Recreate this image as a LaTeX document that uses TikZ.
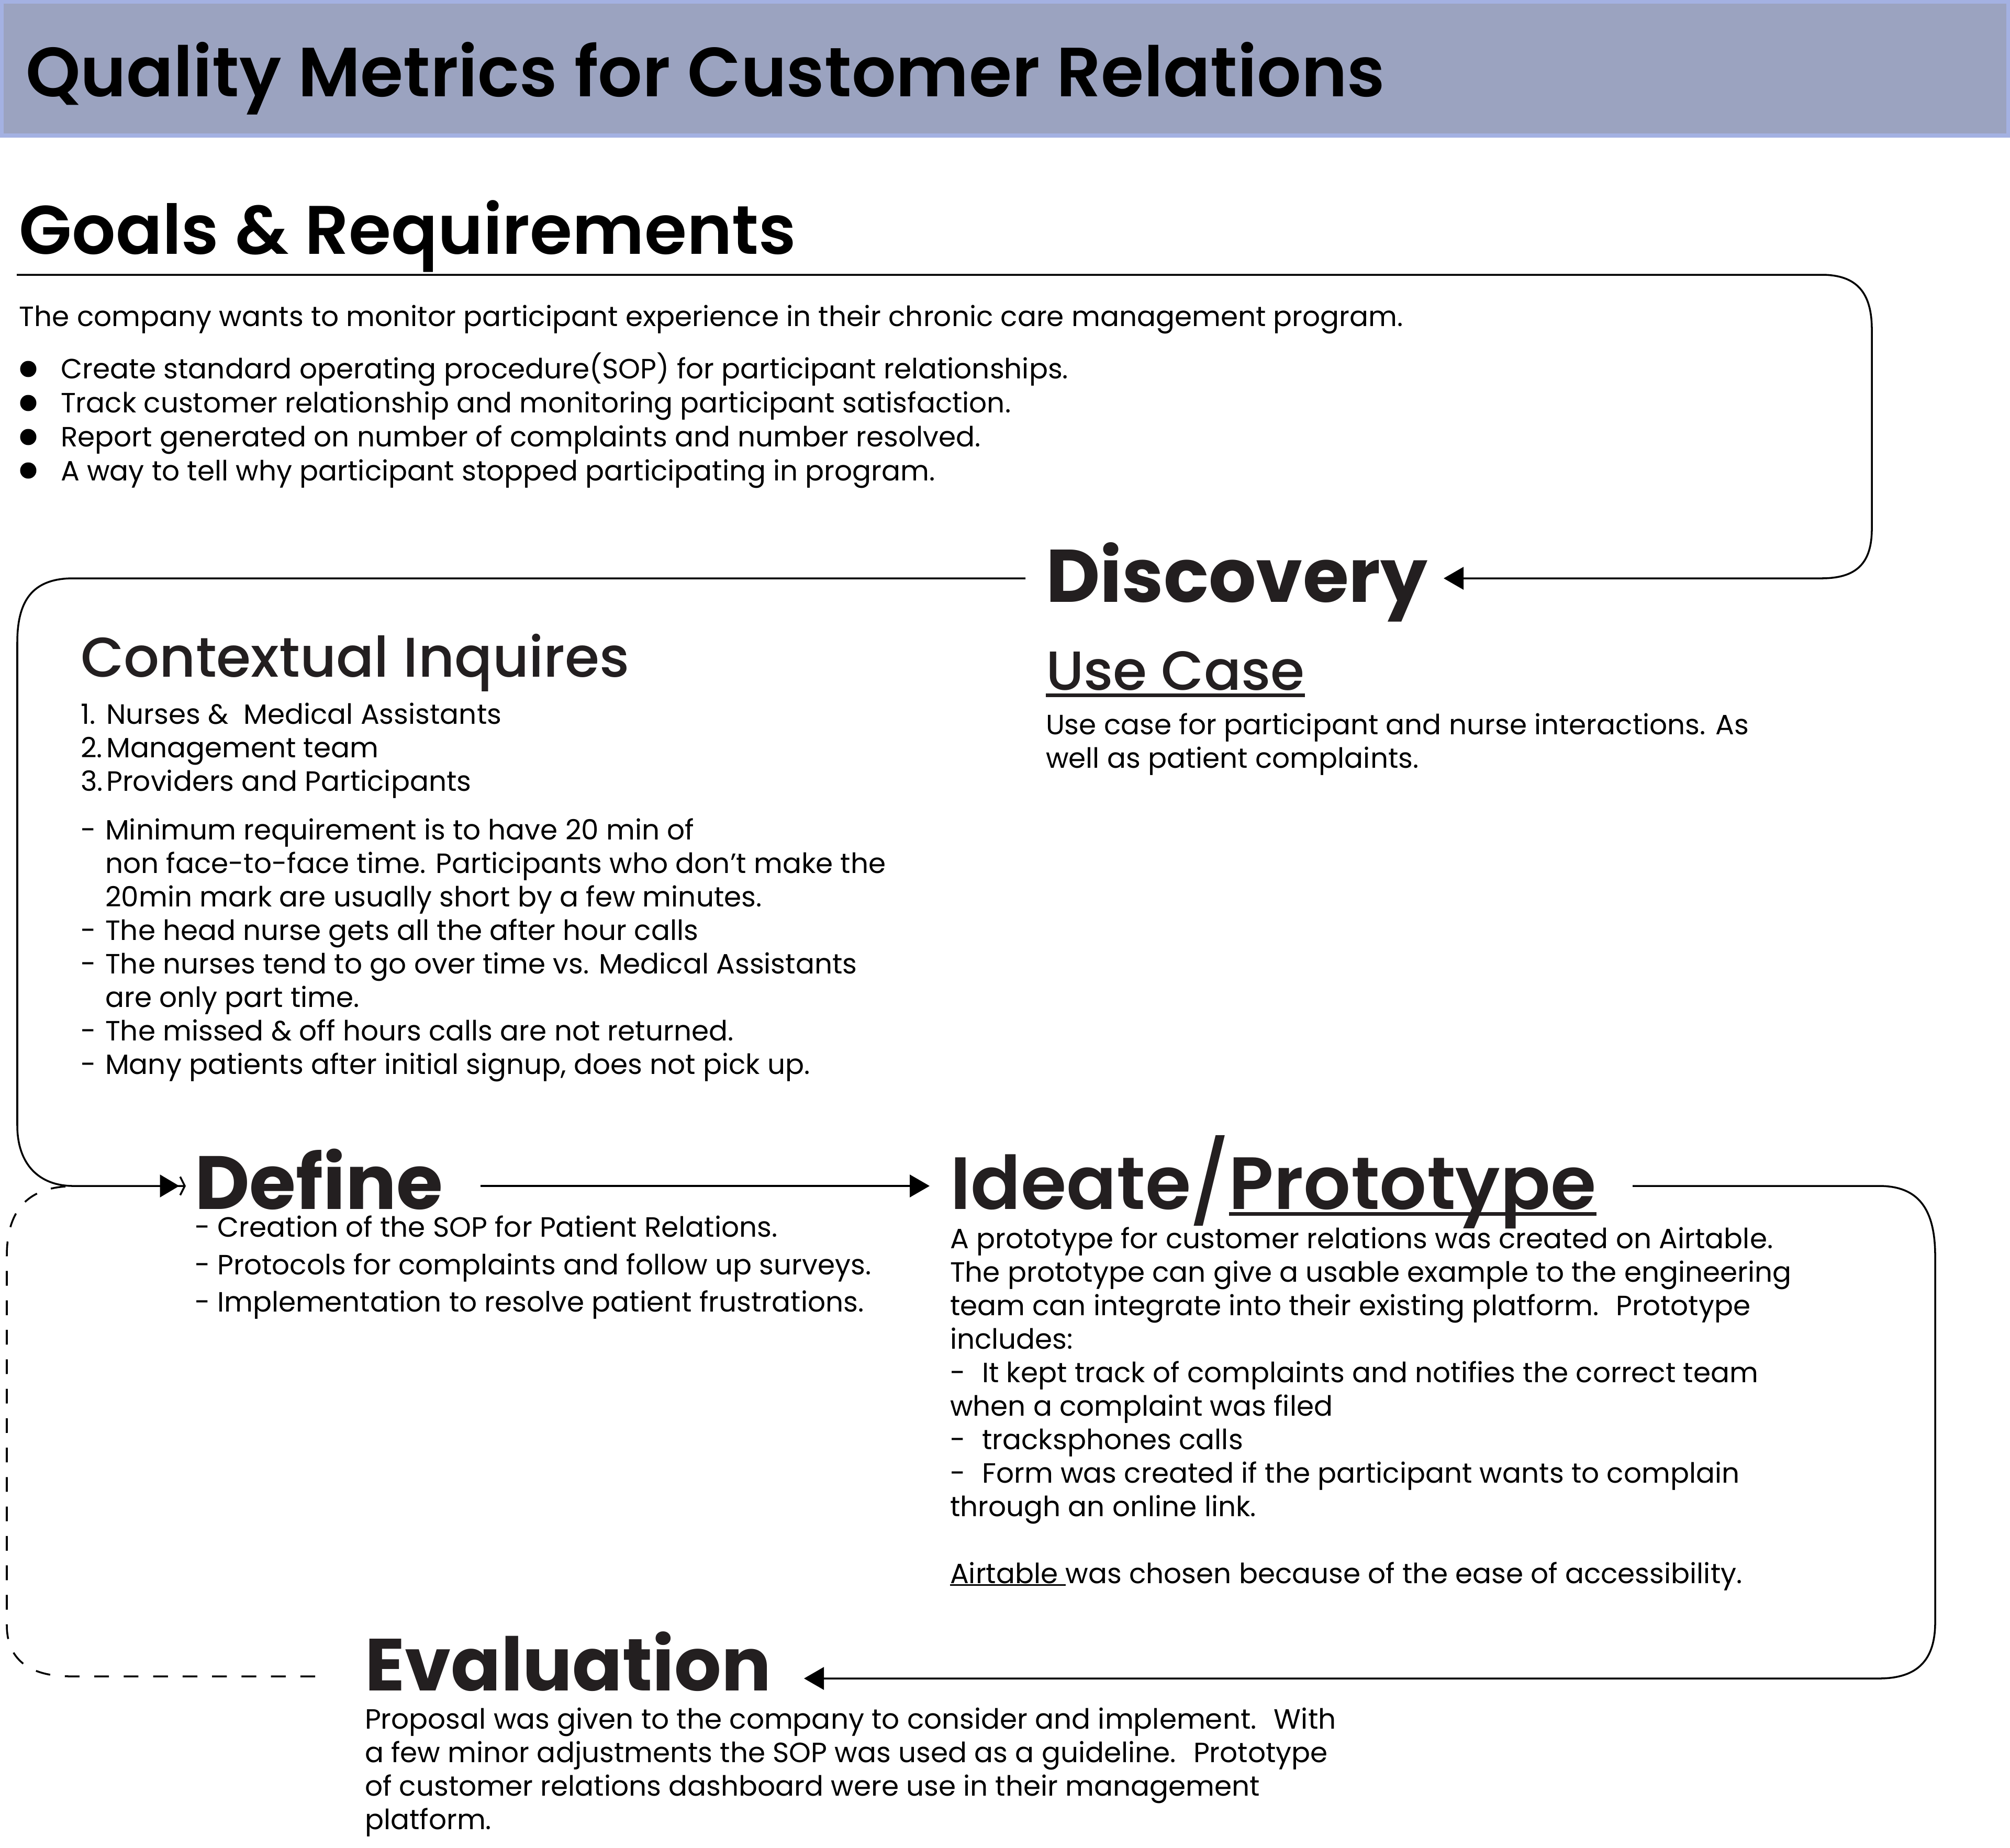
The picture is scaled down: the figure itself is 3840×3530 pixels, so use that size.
\documentclass[tikz,border=0pt]{standalone}
\usepackage{fontspec}
\setmainfont{Poppins}
\newfontfamily\popmed{Poppins Medium}
\newfontfamily\popsemi{Poppins SemiBold}
\newfontfamily\popbold{Poppins Bold}
\usetikzlibrary{arrows.meta}
\definecolor{headfill}{HTML}{9BA3C0}
\definecolor{headline}{HTML}{A4B1E2}
\definecolor{ink}{HTML}{231F20}
\newcommand{\ulx}[3]{\setbox0=\hbox{#3}\rlap{\rule[-#1]{\wd0}{#2}}\box0}
\newcommand{\dsh}[1]{\makebox[#1][l]{-}}
\begin{document}
\begin{tikzpicture}[x=0.01cm,y=-0.01cm,
  txt/.style={anchor=base west,inner sep=0pt,outer sep=0pt,align=left,font=\fontsize{15.15}{18.2}\selectfont},
  head/.style={anchor=base west,inner sep=0pt,outer sep=0pt,text=ink},
  flow/.style={line width=1pt,draw=black},
  tip/.style={-{Triangle[length=10.8pt,width=12.2pt]}},
  notchtip/.style={-{Triangle[length=10.5pt,width=12.2pt]Straight Barb[length=2.5pt,width=10pt,line width=1pt]}},
  dashflow/.style={line width=1pt,draw=black,dash pattern=on 8pt off 8pt}
]
\useasboundingbox (0,0) rectangle (3840,3530);
% header
\fill[headfill] (0,0) rectangle (3840,262);
\draw[headline,line width=2pt] (3.5,3.5) rectangle (3836.5,259);
\node[head,text=black,font=\popsemi\fontsize{37.8}{44}\selectfont] (title) at (49,184) {Quality Metrics for Customer Relations};

% goals
\node[head,text=black,font=\popsemi\fontsize{37.3}{44}\selectfont] (goals) at (37,485) {Goals \& Requirements};
\node[txt] (intro) at (37,623) {The company wants to monitor participant experience in their chronic care management program.};
\node[txt,font=\fontsize{15.15}{18.45}\selectfont] (blist) at (116,918) {Create standard operating procedure(SOP) for participant relationships.\\Track customer relationship and monitoring participant satisfaction.\\Report generated on number of complaints and number resolved.\\A way to tell why participant stopped participating in program.};
\foreach \yy in {705,770,835,899}{\fill (54,\yy) circle[radius=0.155cm];}

% discovery
\node[head,font=\popbold\fontsize{40.5}{48}\selectfont] (disc) at (1998,1150) {Discovery};
\node[head,font=\popmed\fontsize{29.9}{36}\selectfont] (uc) at (1998,1318) {\ulx{4pt}{2pt}{Use Case}};
\node[txt] (uct) at (1998,1467) {Use case for participant and nurse interactions. As\\well as patient complaints.};

% contextual inquires
\node[head,font=\popmed\fontsize{30.4}{36}\selectfont] (ctx) at (154,1293) {Contextual Inquires};
\node[txt] (ctxn) at (154,1511) {\makebox[14pt][l]{1.}Nurses \&~ Medical Assistants\\\makebox[14pt][l]{2.}Management team\\\makebox[14pt][l]{3.}Providers and Participants};
\node[txt] (ctxd) at (154,2052) {\dsh{13.4pt}Minimum requirement is to have 20 min of\\\hspace*{13.4pt}non face-to-face time. Participants who don’t make the\\\hspace*{13.4pt}20min mark are usually short by a few minutes.\\\dsh{13.4pt}The head nurse gets all the after hour calls\\\dsh{13.4pt}The nurses tend to go over time vs. Medical Assistants\\\hspace*{13.4pt}are only part time.\\\dsh{13.4pt}The missed \& off hours calls are not returned.\\\dsh{13.4pt}Many patients after initial signup, does not pick up.};

% define
\node[head,font=\popbold\fontsize{41}{48}\selectfont] (def) at (372,2310) {Define};
\node[txt,font=\fontsize{15.15}{20.2}\selectfont] (defl) at (372,2506) {- Creation of the SOP for Patient Relations.\\- Protocols for complaints and follow up surveys.\\- Implementation to resolve patient frustrations.};

% ideate / prototype
\node[head,font=\popsemi\fontsize{40.2}{48}\selectfont] (ide) at (1815,2310) {Ideate\kern-1pt{\popmed\fontsize{44}{44}\selectfont\raisebox{-1.5pt}{/}}\kern-1pt\ulx{3.7pt}{2pt}{Prototype}};
\node[txt] (idet) at (1815,3025) {A prototype for customer relations was created on Airtable.\\The prototype can give a usable example to the engineering\\team can integrate into their existing platform.~ Prototype\\includes:\\\dsh{17.4pt}It kept track of complaints and notifies the correct team\\when a complaint was filed\\\dsh{17.4pt}tracksphones calls\\\dsh{17.4pt}Form was created if the participant wants to complain\\through an online link.\\[18.2pt]\ulx{1.5pt}{1pt}{Airtable\ }was chosen because of the ease of accessibility.};

% evaluation
\node[head,font=\popbold\fontsize{40.1}{48}\selectfont] (eval) at (697,3230) {Evaluation};
\node[txt] (evt) at (697,3495) {Proposal was given to the company to consider and implement.~ With\\a few minor adjustments the SOP was used as a guideline.~ Prototype\\of customer relations dashboard were use in their management\\platform.};

% connectors
\coordinate (g0) at (32,525);
\coordinate (gtip) at (2758,1105);
\draw[flow,tip] (g0) -- (3480,525) .. controls (3548,525) and (3576,560) .. (3576,630) -- (3576,1010) .. controls (3576,1075) and (3548,1105) .. (3480,1105) -- (gtip);

\coordinate (c0) at (1959,1105);
\coordinate (ctip) at (355,2266);
\draw[flow,notchtip] (c0) -- (140,1105) .. controls (60,1105) and (33,1150) .. (33,1228) -- (33,2150) .. controls (33,2225) and (75,2266) .. (140,2266) -- (ctip);

\coordinate (d0) at (918,2266);
\coordinate (dtip) at (1776,2266);
\draw[flow,tip] (d0) -- (dtip);

\coordinate (i0) at (3119,2266);
\coordinate (itip) at (1536,3207);
\draw[flow,tip] (i0) -- (3590,2266) .. controls (3665,2266) and (3697,2310) .. (3697,2400) -- (3697,3100) .. controls (3697,3170) and (3665,3207) .. (3590,3207) -- (itip);

\coordinate (e0) at (125,2267);
\coordinate (e1) at (617,3203);
\draw[dashflow] (e0) .. controls (55,2272) and (13,2310) .. (13,2400) -- (13,3105) .. controls (13,3170) and (55,3203) .. (135,3203) -- (e1);
\end{tikzpicture}
\end{document}
